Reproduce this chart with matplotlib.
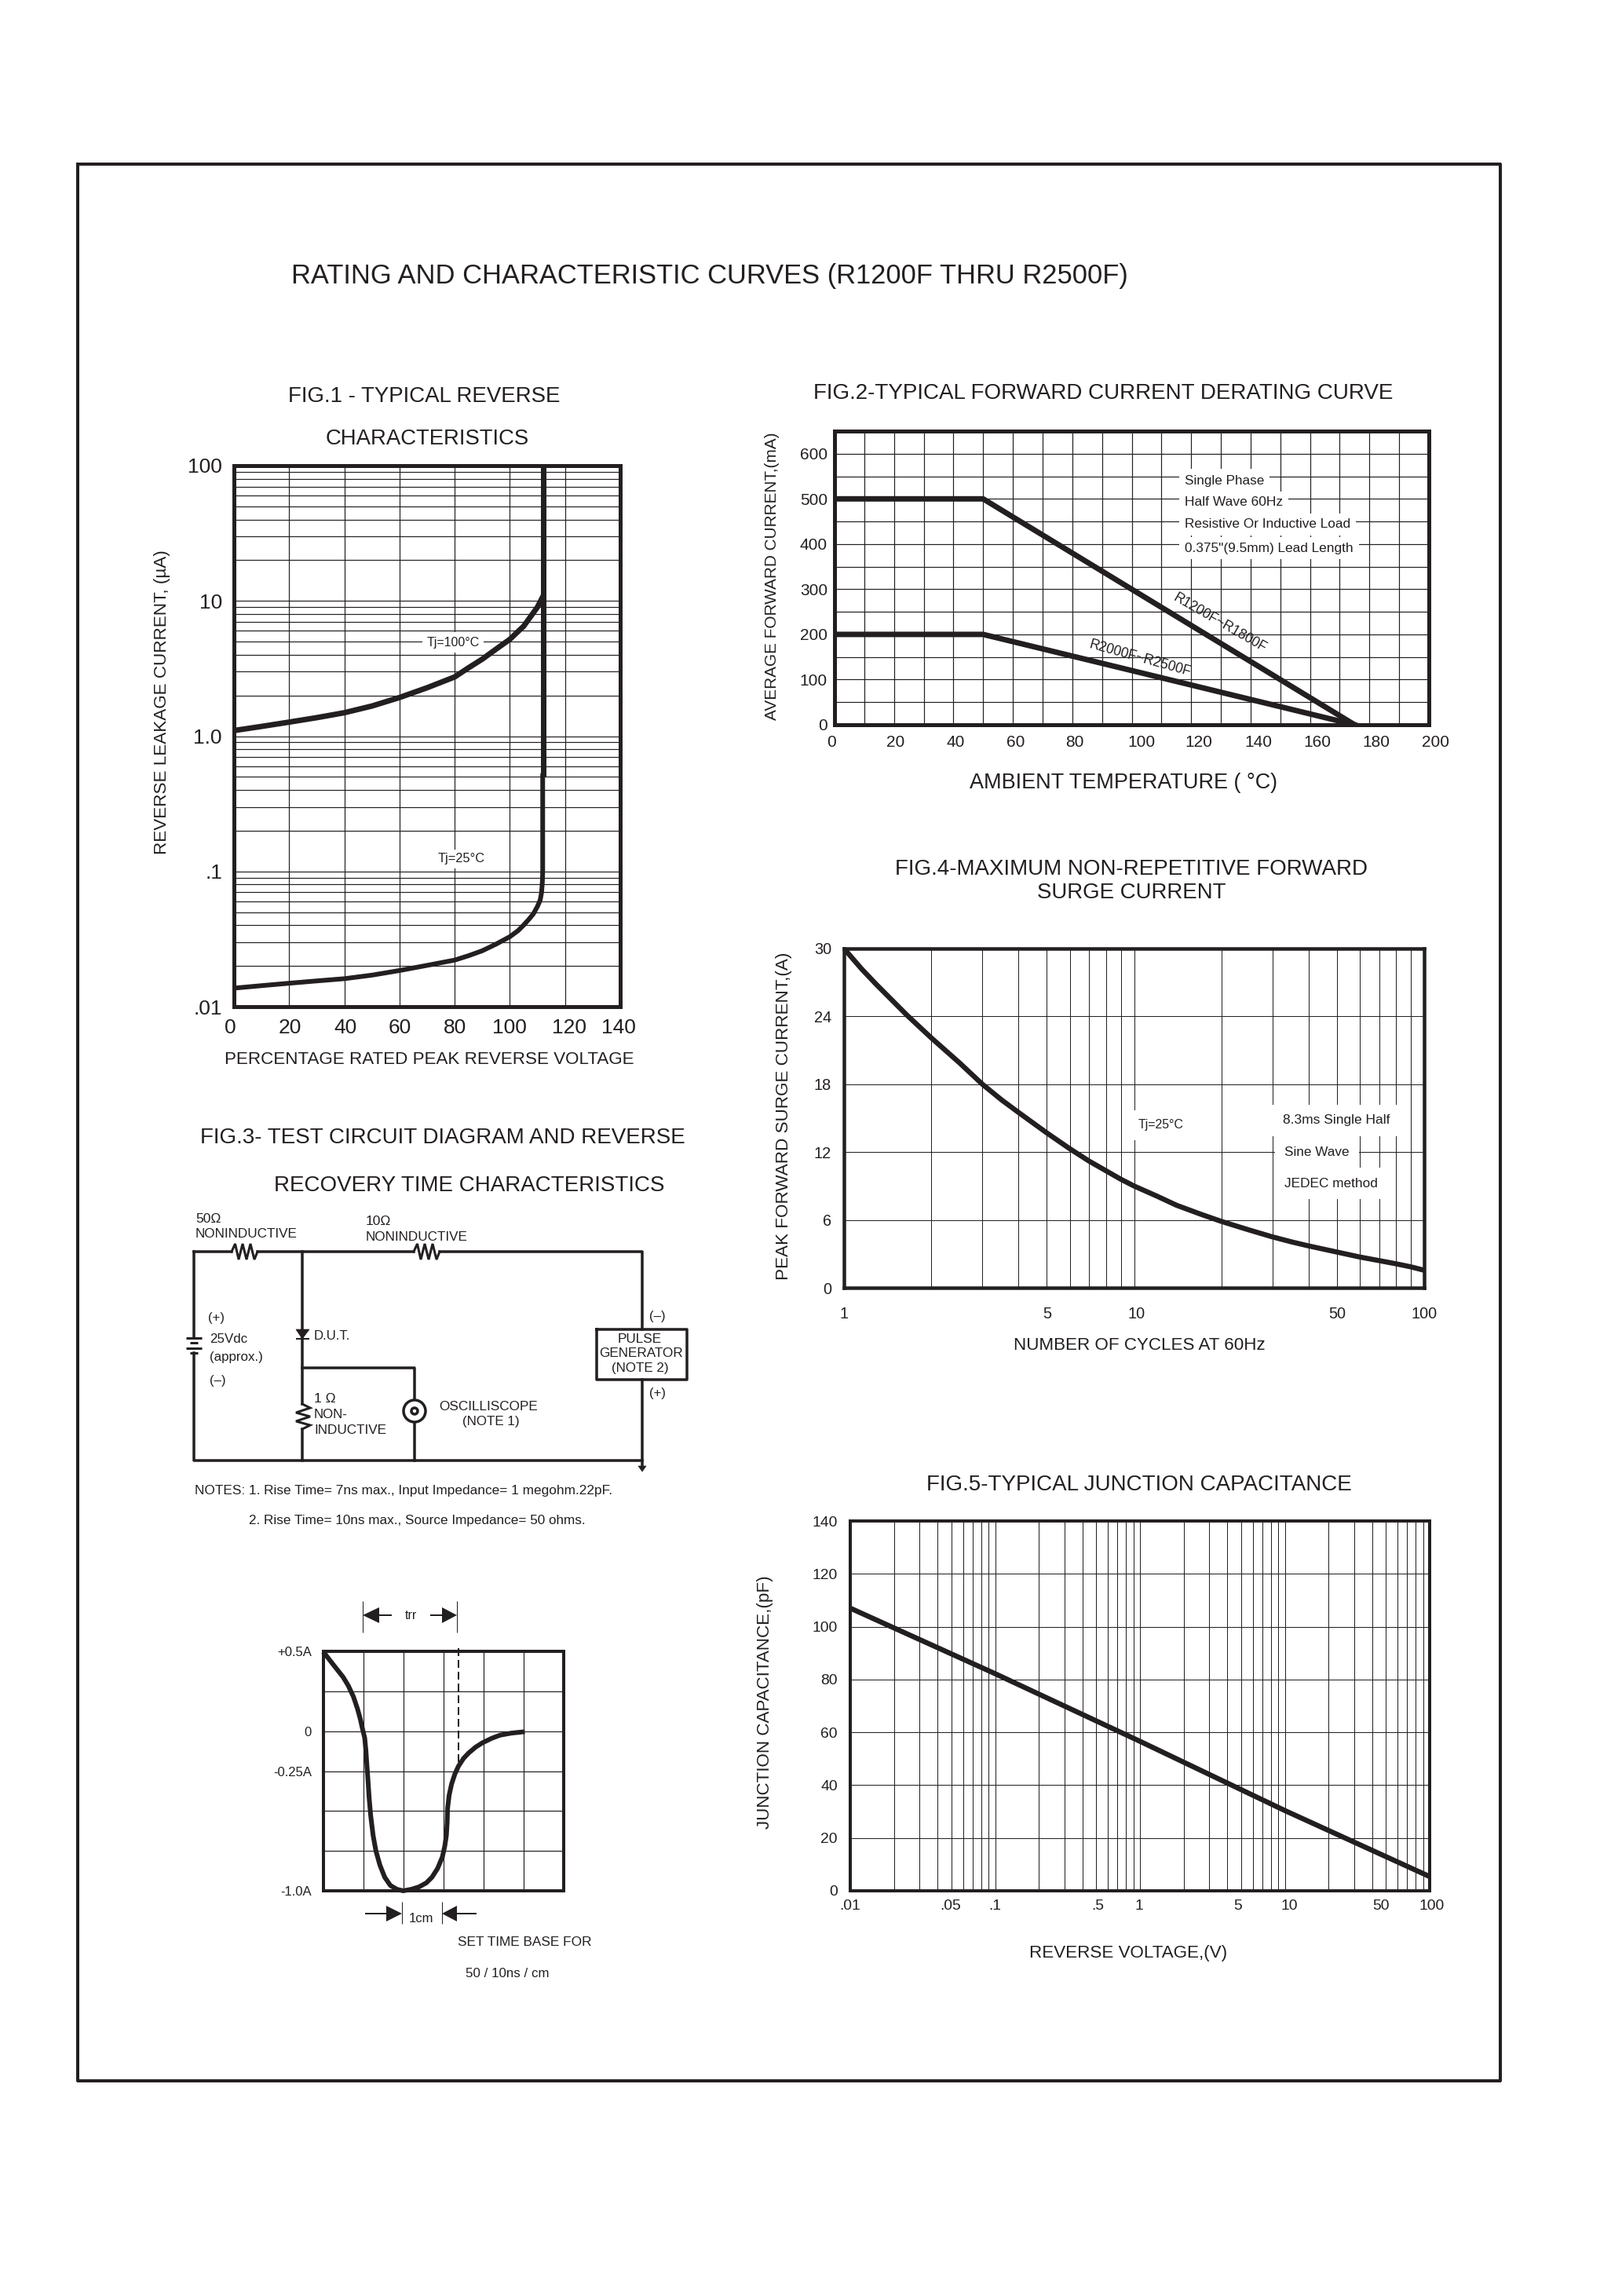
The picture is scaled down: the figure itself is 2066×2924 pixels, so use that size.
import matplotlib.pyplot as plt
from matplotlib.patches import Circle, Polygon
from matplotlib.ticker import NullFormatter
from matplotlib.transforms import ScaledTranslation

plt.rcParams['font.family'] = ['Liberation Sans', 'DejaVu Sans']

W, H = 2066, 2924
INK = '#231f20'

# fig 1 - reverse characteristics
leak_x = [0, 10, 20, 30, 40, 50, 60, 70, 80, 85, 90, 95, 100, 103, 105, 108, 110, 112]
leak_100 = [1.10, 1.18, 1.27, 1.37, 1.49, 1.67, 1.93, 2.28, 2.74, 3.2, 3.71, 4.4,
            5.2, 5.95, 6.5, 7.9, 9.0, 10.8]
leak25_x = [0, 10, 20, 30, 40, 50, 60, 70, 80, 85, 90, 95, 100, 103, 105, 107, 108.5,
            110, 111, 111.5, 111.8, 111.9, 111.9]
leak_25 = [.0137, .0143, .0149, .0155, .0161, .0171, .0185, .0202, .0221, .0238, .0259,
           .0290, .0329, .0365, .0401, .0445, .0485, .0551, .0615, .0700, .085, .1, .51]
breakdown_x = [112.2, 112.2]
breakdown_y = [.5, 100]
fig1_xticks = [0, 20, 40, 60, 80, 100, 120, 140]
fig1_yticks = [.01, .1, 1, 10, 100]
fig1_ylabels = ['.01', '.1', '1.0', '10', '100']

# fig 2 - derating
derate_x = [0, 50, 175]
derate_high = [500, 500, 0]
derate_low = [200, 200, 0]
fig2_xticks = [0, 20, 40, 60, 80, 100, 120, 140, 160, 180, 200]
fig2_yticks = [0, 100, 200, 300, 400, 500, 600]
fig2_notes = ['Single Phase', 'Half Wave 60Hz', 'Resistive Or Inductive Load',
              '0.375"(9.5mm) Lead Length']

# fig 3 - recovery waveform
wave_t = [0.03, 0.25, 0.49, 0.62, 0.75, 0.85, 0.92, 0.97, 1.03, 1.06, 1.08, 1.11, 1.14,
          1.18, 1.24, 1.31, 1.41, 1.53, 1.67, 1.83, 1.99, 2.2, 2.39, 2.57, 2.71, 2.85,
          2.97, 3.03, 3.07, 3.09, 3.10, 3.14, 3.20, 3.28, 3.37, 3.5, 3.63, 3.8, 3.97,
          4.2, 4.41, 4.7, 4.97]
wave_i = [0.486, 0.415, 0.339, 0.285, 0.215, 0.14, 0.076, 0.02, -0.042, -0.12, -0.195,
          -0.30, -0.415, -0.53, -0.653, -0.75, -0.839, -0.915, -0.966, -0.99, -1.0,
          -0.99, -0.975, -0.95, -0.915, -0.86, -0.788, -0.72, -0.653, -0.57, -0.483,
          -0.40, -0.331, -0.27, -0.220, -0.17, -0.136, -0.10, -0.073, -0.045, -0.025,
          -0.012, -0.005]
wave_yticks = [0.5, 0, -0.25, -1.0]
wave_ylabels = ['+0.5A', '0', '-0.25A', '-1.0A']
trr_t = [3.37, 3.37]
trr_i = [0.52, -0.22]

# fig 4 - surge current
surge_n = [1, 1.15, 1.29, 1.65, 2, 2.5, 3, 3.5, 4, 5, 6, 7, 9, 10, 12, 14, 17, 20, 25,
           30, 35, 40, 50, 60, 70, 80, 90, 100]
surge_a = [30, 28.2, 26.85, 24.1, 22.1, 19.9, 18.0, 16.6, 15.5, 13.7, 12.3, 11.2, 9.6,
           9.0, 8.1, 7.3, 6.5, 5.87, 5.1, 4.5, 4.05, 3.7, 3.16, 2.72, 2.4, 2.12, 1.85,
           1.55]
fig4_xticks = [1, 5, 10, 50, 100]
fig4_yticks = [0, 6, 12, 18, 24, 30]

# fig 5 - junction capacitance
cap_v = [.01, .1, 1, 10, 100]
cap_pf = [107, 82.2, 56.6, 30.4, 5.4]
fig5_xticks = [.01, .05, .1, .5, 1, 5, 10, 50, 100]
fig5_xlabels = ['.01', '.05', '.1', '.5', '1', '5', '10', '50', '100']
fig5_yticks = [0, 20, 40, 60, 80, 100, 120, 140]

fig = plt.figure(figsize=(W / 100, H / 100), dpi=100)
renderer = fig.canvas.get_renderer()


def px(v):
    return v * 0.72


def label(x, y, s, width=None, size=12, ha='center', rot=0, host=None, box=None):
    # place text by reference pixel, optionally scaled to a measured width
    owner = host if host is not None else fig
    if rot == 0:
        y += 2
    elif rot == 90:
        x += 1.5
    t = owner.text(x / W, 1 - y / H, s, fontsize=size, ha=ha, va='center', color=INK,
                   transform=fig.transFigure, rotation_mode='anchor', zorder=2.2)
    if width:
        t.set_fontsize(size * width / t.get_window_extent(renderer).width)
    t.set_rotation(rot)
    if box is not None:
        t.set_bbox(dict(fc='white', ec='none', pad=box))
    return t


def panel(x0, y0, x1, y1, frame, grid, size, padx, pady):
    ax = fig.add_axes([x0 / W, 1 - y1 / H, (x1 - x0) / W, (y1 - y0) / H])
    for sp in ax.spines.values():
        sp.set_linewidth(px(frame))
        sp.set_color(INK)
    ax.set_axisbelow(True)
    ax.grid(which='both', color=INK, lw=px(grid))
    ax.tick_params(which='both', length=0, labelcolor=INK, labelsize=size)
    ax.tick_params(axis='x', pad=px(padx))
    ax.tick_params(axis='y', pad=px(pady))
    return ax


def decades(lo, hi):
    return [m * 10.0 ** e for e in range(lo, hi) for m in range(2, 10)]


def shift_xlabels(ax, shifts):
    for lab, dx in zip(ax.get_xticklabels(), shifts):
        lab.set_transform(lab.get_transform() + ScaledTranslation(dx / 100, 0, fig.dpi_scale_trans))


# page frame and title
back = fig.add_axes([0, 0, 1, 1])
back.set_xlim(0, W)
back.set_ylim(H, 0)
back.axis('off')


def wire(xs, ys, lw=3.5, **kw):
    kw.setdefault('solid_capstyle', 'projecting')
    back.plot(xs, ys, color=INK, lw=px(lw), **kw)


wire([99, 1911, 1911, 99, 99], [209, 209, 2650, 2650, 209], lw=4)
label(904, 349, 'RATING AND CHARACTERISTIC CURVES (R1200F THRU R2500F)', width=1066)

# FIG 1
label(540, 503, 'FIG.1 - TYPICAL REVERSE', width=346)
label(544, 557, 'CHARACTERISTICS', width=259)
ax1 = panel(298, 593, 790, 1282, 5, 1.2, 19, 15, 15)
ax1.set_yscale('log')
ax1.set_xlim(0, 140)
ax1.set_ylim(.01, 100)
ax1.set_xticks(fig1_xticks)
ax1.set_yticks(fig1_yticks, fig1_ylabels)
ax1.set_yticks(decades(-2, 2), minor=True)
ax1.yaxis.set_minor_formatter(NullFormatter())
shift_xlabels(ax1, [-5, 1, 1, 0, 0, 0, 5, -2])
ax1.plot(leak_x, leak_100, color=INK, lw=px(7), solid_joinstyle='round', zorder=3)
ax1.plot(leak25_x, leak_25, color=INK, lw=px(6), solid_joinstyle='round', zorder=3)
ax1.plot(breakdown_x, breakdown_y, color=INK, lw=px(7), solid_capstyle='butt', zorder=3)
label(577, 816, 'Tj=100°C', width=67, host=ax1, box=4)
label(588, 1092, 'Tj=25°C', width=60, host=ax1, box=3)
label(205, 894, 'REVERSE LEAKAGE CURRENT, (µA)', width=387, rot=90)
label(547, 1348, 'PERCENTAGE RATED PEAK REVERSE VOLTAGE', width=520)

# FIG 2
label(1405, 499, 'FIG.2-TYPICAL FORWARD CURRENT DERATING CURVE', width=737)
ax2 = panel(1063, 549, 1820, 923, 5, 1.2, 15, 13, 9)
ax2.set_xlim(0, 200)
ax2.set_ylim(0, 650)
ax2.set_xticks(fig2_xticks)
ax2.set_xticks(range(10, 200, 20), minor=True)
ax2.set_yticks(fig2_yticks)
ax2.set_yticks(range(50, 650, 100), minor=True)
shift_xlabels(ax2, [-3.5, 2, 3, 3.5, 3, 12, 10, 10, 9.5, 9, 8])
ax2.plot(derate_x, derate_high, color=INK, lw=px(7), zorder=3)
ax2.plot(derate_x, derate_low, color=INK, lw=px(7), zorder=3)
for note, y, w in zip(fig2_notes, [610, 638, 666, 696], [101, 125, 211, 214]):
    label(1509, y, note, width=w, ha='left', host=ax2, box=5)
label(1554, 794, 'R1200F~R1800F', width=135, rot=-30, host=ax2)
label(1452, 839, 'R2000F~R2500F', width=135, rot=-15.6, host=ax2)
label(982, 734, 'AVERAGE FORWARD CURRENT,(mA)', width=366, rot=90)
label(1431, 995, 'AMBIENT TEMPERATURE ( °C)', width=391)

# FIG 3 circuit
label(255, 1447, 'FIG.3- TEST CIRCUIT DIAGRAM AND REVERSE', width=618, ha='left')
label(349, 1508, 'RECOVERY TIME CHARACTERISTICS', width=497, ha='left')

top_y, bottom_y, branch_y = 1594, 1860, 1742
left_x, dut_x, scope_x, gen_x = 247, 385, 528, 818
zig_dx = [0, 4.5, 9, 14, 19, 24, 29, 33]
zig_dy = [0, -10, 10, -10, 10, -10, 10, 0]
vzig_dy = [0, 5, 11, 16, 22, 27, 32]
vzig_dx = [0, 10, -8, 10, -8, 10, 0]

wire([left_x, 295], [top_y, top_y])
wire([x + 295 for x in zig_dx], [top_y + y for y in zig_dy], lw=3, solid_joinstyle='miter')
wire([328, 527], [top_y, top_y])
wire([x + 527 for x in zig_dx], [top_y + y for y in zig_dy], lw=3, solid_joinstyle='miter')
wire([560, gen_x, gen_x], [top_y, top_y, 1693])
wire([left_x, left_x], [top_y, 1704])
wire([left_x, left_x, gen_x], [1723, bottom_y, bottom_y])
wire([gen_x, gen_x], [1757, 1868])
wire([dut_x, dut_x], [top_y, 1788])
wire([dut_x + x for x in vzig_dx], [1788 + y for y in vzig_dy], lw=3, solid_joinstyle='miter')
wire([dut_x, dut_x], [1820, bottom_y])
wire([dut_x, scope_x, scope_x], [branch_y, branch_y, 1782])
wire([scope_x, scope_x], [1812, bottom_y])
for y, half in zip([1704, 1710, 1717, 1723], [10, 5, 10, 5]):
    wire([left_x - half, left_x + half], [y, y], lw=3, solid_capstyle='butt')
wire([760, 875, 875, 760, 760], [1693, 1693, 1757, 1757, 1693])
back.add_patch(Circle((scope_x, 1797), 14, fc='white', ec=INK, lw=px(3.5), zorder=3))
back.add_patch(Circle((scope_x, 1797), 4, fc='white', ec=INK, lw=px(3.5), zorder=3))
back.add_patch(Polygon([(377, 1693), (394, 1693), (385, 1705)], fc=INK, ec=INK, lw=0.5))
wire([377, 394], [1705, 1705], lw=2, solid_capstyle='butt')
back.add_patch(Polygon([(813, 1867), (823, 1867), (818, 1874)], fc=INK, ec=INK, lw=0.5))

label(249, 1550, '50Ω', size=12.5, ha='left')
label(249, 1569, 'NONINDUCTIVE', width=130, ha='left')
label(466, 1554, '10Ω', size=12.5, ha='left')
label(466, 1573, 'NONINDUCTIVE', width=130, ha='left')
label(265, 1677, '(+)', size=12, ha='left')
label(267, 1704, '25Vdc', width=48, ha='left')
label(267, 1727, '(approx.)', width=68, ha='left')
label(267, 1757, '(–)', size=12, ha='left')
label(400, 1699, 'D.U.T.', width=46, ha='left')
label(400, 1780, '1 Ω', size=12.5, ha='left')
label(400, 1799, 'NON-', width=43, ha='left')
label(400, 1819, 'INDUCTIVE', width=92, ha='left')
label(622, 1790, 'OSCILLISCOPE', width=125)
label(625, 1809, '(NOTE 1)', width=73)
label(815, 1704, 'PULSE', width=56)
label(817, 1722, 'GENERATOR', width=107)
label(815, 1741, '(NOTE 2)', width=73)
label(837, 1675, '(–)', size=12)
label(837, 1772, '(+)', size=12)
label(248, 1896, 'NOTES: 1. Rise Time= 7ns max., Input Impedance= 1 megohm.22pF.', width=530, ha='left')
label(317, 1934, '2. Rise Time= 10ns max., Source Impedance= 50 ohms.', width=428, ha='left')

# FIG 3 waveform
ax3 = panel(412, 2103, 718, 2408, 4, 1.2, 12, 8, 15)
ax3.set_xlim(0, 6)
ax3.set_ylim(-1.0, 0.5)
ax3.set_xticks(range(1, 6), [''] * 5)
ax3.set_yticks(wave_yticks, wave_ylabels)
ax3.set_yticks([0.25, -0.5, -0.75], minor=True)
ax3.plot(wave_t, wave_i, color=INK, lw=px(6), solid_joinstyle='round', zorder=3, clip_on=False)
ax3.plot(trr_t, trr_i, color=INK, lw=px(2), ls=(0, (5, 2.5)), zorder=3, clip_on=False)

wire([462, 462], [2039, 2079], lw=1, solid_capstyle='butt')
wire([582, 582], [2039, 2079], lw=1, solid_capstyle='butt')
wire([483, 499], [2057, 2057], lw=2, solid_capstyle='butt')
wire([548, 563], [2057, 2057], lw=2, solid_capstyle='butt')
back.add_patch(Polygon([(462, 2057), (483, 2047), (483, 2067)], fc=INK, lw=0))
back.add_patch(Polygon([(582, 2057), (563, 2047), (563, 2067)], fc=INK, lw=0))
wire([512, 512], [2422, 2450], lw=1, solid_capstyle='butt')
wire([563, 563], [2422, 2450], lw=1, solid_capstyle='butt')
wire([465, 492], [2437, 2437], lw=2, solid_capstyle='butt')
wire([582, 607], [2437, 2437], lw=2, solid_capstyle='butt')
back.add_patch(Polygon([(512, 2437), (492, 2427), (492, 2447)], fc=INK, lw=0))
back.add_patch(Polygon([(563, 2437), (582, 2427), (582, 2447)], fc=INK, lw=0))
label(523, 2055, 'trr', size=11.5)
label(537, 2441, '1cm', size=12)
label(583, 2472, 'SET TIME BASE FOR', width=170, ha='left')
label(593, 2511, '50 / 10ns / cm', width=106, ha='left')

# FIG 4
label(1441, 1105, 'FIG.4-MAXIMUM NON-REPETITIVE FORWARD', width=601)
label(1441, 1135, 'SURGE CURRENT', width=240)
ax4 = panel(1075, 1208, 1814, 1640, 4.5, 1, 14.3, 24, 16)
ax4.set_xscale('log')
ax4.set_xlim(1, 100)
ax4.set_ylim(0, 30)
ax4.set_xticks(fig4_xticks, [str(v) for v in fig4_xticks])
ax4.set_xticks([v for v in decades(0, 2) if v not in fig4_xticks], minor=True)
ax4.xaxis.set_minor_formatter(NullFormatter())
ax4.set_yticks(fig4_yticks)
shift_xlabels(ax4, [0, 0, 3, 0, 0])
ax4.plot(surge_n, surge_a, color=INK, lw=px(6.5), solid_joinstyle='round', zorder=3)
label(1450, 1431, 'Tj=25°C', width=58, ha='left', host=ax4, box=8)
label(1634, 1425, '8.3ms Single Half', width=136, ha='left', host=ax4, box=9)
label(1636, 1465, 'Sine Wave', width=82, ha='left', host=ax4, box=9)
label(1636, 1505, 'JEDEC method', width=119, ha='left', host=ax4, box=9)
label(997, 1421, 'PEAK FORWARD SURGE CURRENT,(A)', width=416, rot=90)
label(1451, 1712, 'NUMBER OF CYCLES AT 60Hz', width=320)

# FIG 5
label(1451, 1889, 'FIG.5-TYPICAL JUNCTION CAPACITANCE', width=540)
ax5 = panel(1083, 1937, 1821, 2408, 4, 1, 13.9, 11, 16)
ax5.set_xscale('log')
ax5.set_xlim(.01, 100)
ax5.set_ylim(0, 140)
ax5.set_xticks(fig5_xticks, fig5_xlabels)
ax5.set_xticks([v for v in decades(-2, 2) if round(v, 3) not in fig5_xticks], minor=True)
ax5.xaxis.set_minor_formatter(NullFormatter())
ax5.set_yticks(fig5_yticks)
shift_xlabels(ax5, [-0.5, -1.5, 0, 2, -1, -4, 6, -6, 3])
ax5.plot(cap_v, cap_pf, color=INK, lw=px(6.5), zorder=3)
label(973, 2168, 'JUNCTION CAPACITANCE,(pF)', width=321, rot=90)
label(1437, 2486, 'REVERSE VOLTAGE,(V)', width=251)

fig.savefig('out.png', dpi=100)
